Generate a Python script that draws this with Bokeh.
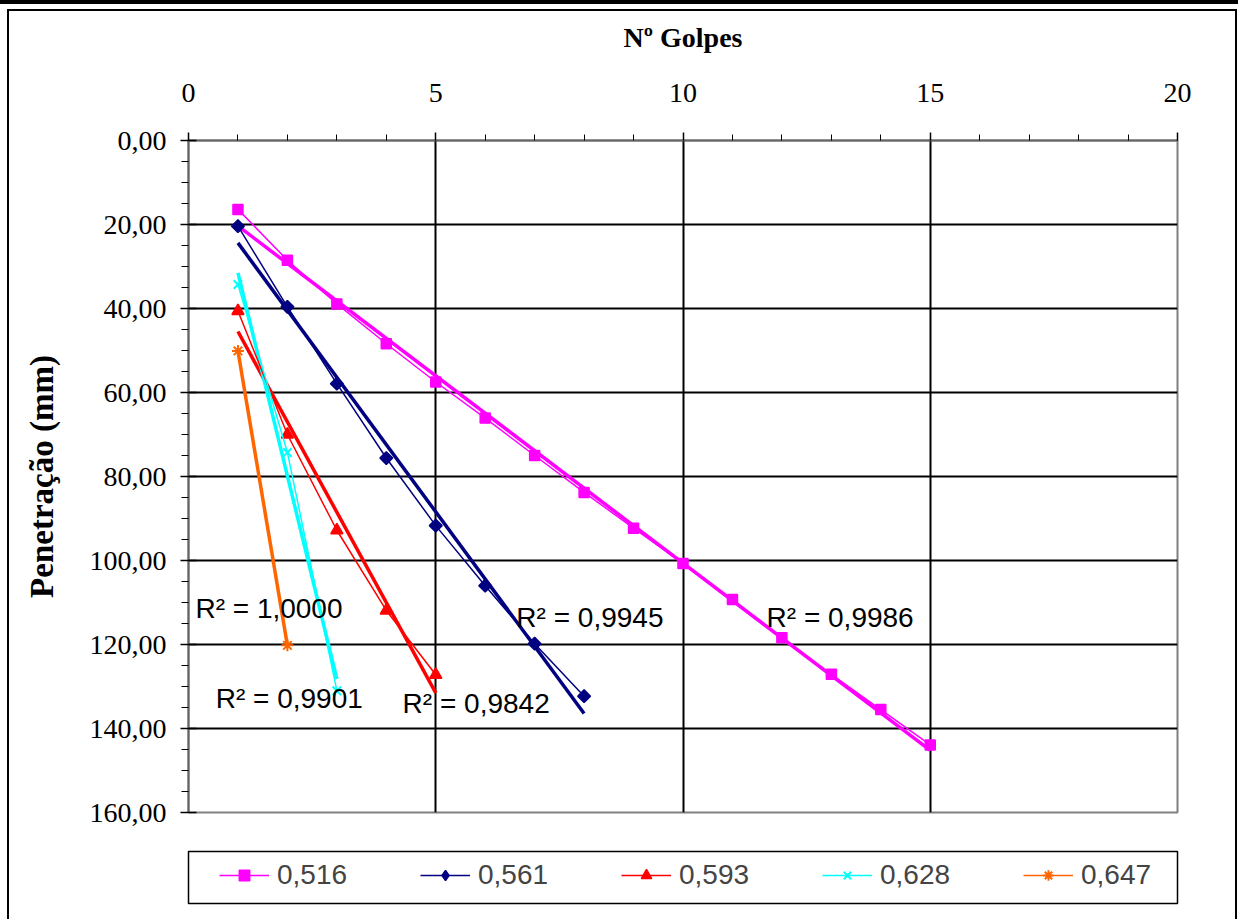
import numpy as np
from bokeh.plotting import figure
from bokeh.layouts import column
from bokeh.models import (ColumnDataSource, Legend, LegendItem, InlineStyleSheet,
                          FixedTicker, CustomJSTickFormatter, Range1d)
from bokeh.core.properties import value
from bokeh.embed import file_html
from bokeh.resources import INLINE

# ---------------- data ----------------
series_names = ["0,516", "0,561", "0,593", "0,628", "0,647"]

golpes_516 = [1, 2, 3, 4, 5, 6, 7, 8, 9, 10, 11, 12, 13, 14, 15]
pen_516 = [16.4, 28.5, 38.9, 48.4, 57.5, 66.1, 75.0, 83.8, 92.3, 100.7,
           109.3, 118.4, 127.1, 135.5, 143.9]

golpes_561 = [1, 2, 3, 4, 5, 6, 7, 8]
pen_561 = [20.4, 39.6, 57.9, 75.6, 91.7, 106.0, 119.8, 132.3]

golpes_593 = [1, 2, 3, 4, 5]
pen_593 = [40.6, 70.0, 92.8, 111.9, 127.2]

golpes_628 = [1, 2, 3]
pen_628 = [34.3, 74.3, 131.0]

golpes_647 = [1, 2]
pen_647 = [50.1, 120.2]

r2_texts = ["R\u00b2 = 0,9986", "R\u00b2 = 0,9945", "R\u00b2 = 0,9842",
            "R\u00b2 = 0,9901", "R\u00b2 = 1,0000"]

x_ticks = [0, 5, 10, 15, 20]
y_ticks = [0, 20, 40, 60, 80, 100, 120, 140, 160]

# ---------------- styles / positions ----------------
colors = ["#FF00FF", "#000080", "#FF0000", "#00FFFF", "#FF6600"]
markers = ["square", "square", "triangle", "x", "asterisk"]
legend_markers = ["square", "diamond", "triangle", "x", "asterisk"]
marker_sizes = [10, 9, 12, 12, 12]
marker_angles = [0, np.pi / 4, 0, 0, 0]
marker_lw = [1.5, 1.5, 1.5, 2, 2]
label_x = [11.69, 6.63, 4.33, 0.55, 0.14]
label_y = [113.6, 113.6, 134.0, 132.9, 111.4]

xs_all = [golpes_516, golpes_561, golpes_593, golpes_628, golpes_647]
ys_all = [pen_516, pen_561, pen_593, pen_628, pen_647]

SERIF = "Liberation Serif"
SANS = "Liberation Sans"

p = figure(width=1238, height=840,
           x_range=Range1d(0, 20), y_range=Range1d(160, 0),
           x_axis_location="above",
           output_backend="svg", toolbar_location=None,
           min_border_left=188, min_border_right=61,
           min_border_top=140, min_border_bottom=28)
p.background_fill_color = "white"
p.border_fill_color = "white"
p.outline_line_color = "#808080"
p.outline_line_width = 2

# axes
p.xaxis.ticker = FixedTicker(ticks=x_ticks, minor_ticks=list(range(0, 21)))
p.yaxis.ticker = FixedTicker(ticks=y_ticks, minor_ticks=list(range(0, 161, 5)))
p.yaxis.formatter = CustomJSTickFormatter(code="return tick.toFixed(2).replace('.', ',');")

for ax in (p.xaxis[0], p.yaxis[0]):
    ax.axis_line_color = "#666666"
    ax.axis_line_width = 2
    ax.major_tick_line_color = "black"
    ax.major_tick_line_width = 1.5
    ax.minor_tick_line_color = "black"
    ax.minor_tick_line_width = 1
    ax.major_label_text_font = SERIF
    ax.major_label_text_font_size = "28px"
    ax.major_label_text_color = "black"
    ax.axis_label_text_font = SERIF
    ax.axis_label_text_font_style = "bold"
    ax.axis_label_text_color = "black"

p.xaxis.major_tick_out = 8
p.xaxis.major_tick_in = 0
p.xaxis.minor_tick_out = 6
p.xaxis.minor_tick_in = 0
p.xaxis.major_label_standoff = 31
p.xaxis.axis_label = "N\u00ba Golpes"
p.xaxis.axis_label_text_font_size = "28px"
p.xaxis.axis_label_standoff = 28

p.yaxis.major_tick_out = 8
p.yaxis.major_tick_in = 8
p.yaxis.minor_tick_out = 7
p.yaxis.minor_tick_in = 0
p.yaxis.major_label_standoff = 14
p.yaxis.axis_label = "Penetra\u00e7\u00e3o (mm)"
p.yaxis.axis_label_text_font_size = "33px"
p.yaxis.axis_label_standoff = 27

p.xgrid.grid_line_color = "black"
p.xgrid.grid_line_width = 2
p.ygrid.grid_line_color = "black"
p.ygrid.grid_line_width = 2

# trend lines (linear fits computed from the data)
for xs, ys, c in zip(xs_all, ys_all, colors):
    k, b = np.polyfit(xs, ys, 1)
    xf = [min(xs), max(xs)]
    p.line(xf, [k * v + b for v in xf], line_color=c, line_width=3.5)

# series
for xs, ys, c, m, s, a, lw in zip(xs_all, ys_all, colors, markers,
                                   marker_sizes, marker_angles, marker_lw):
    src = ColumnDataSource(dict(x=xs, y=ys))
    p.line("x", "y", source=src, line_color=c, line_width=1.5)
    p.scatter("x", "y", source=src, marker=m, size=s, angle=a,
              fill_color=c, line_color=c, line_width=lw)

# R^2 labels
lab_src = ColumnDataSource(dict(x=label_x, y=label_y, text=r2_texts))
p.text("x", "y", text="text", source=lab_src, text_font=value(SANS),
       text_font_size="28px", text_baseline="alphabetic", text_align="left",
       text_color="black")

# ---------------- legend strip (second figure, its frame = legend box) ----------------
lg = figure(width=1238, height=79, x_range=Range1d(0, 1), y_range=Range1d(0, 1),
            x_axis_location=None, y_axis_location=None,
            output_backend="svg", toolbar_location=None,
            min_border_left=183, min_border_right=56,
            min_border_top=11, min_border_bottom=16)
lg.grid.visible = False
lg.outline_line_color = "black"
lg.outline_line_width = 1.5
lg.background_fill_color = "white"
lg.border_fill_color = "white"

items = []
for name, c, m, lw in zip(series_names, colors, legend_markers, marker_lw):
    r1 = lg.line([-10, -9], [-10, -9], line_color=c, line_width=1.5)
    r2 = lg.scatter([-10], [-10], marker=m, size=10,
                    fill_color=c, line_color=c, line_width=lw)
    items.append(LegendItem(label=name, renderers=[r1, r2]))

legend = Legend(items=items, orientation="horizontal", location=(31, 12),
                padding=0, margin=0, spacing=63, label_standoff=8,
                glyph_width=50, glyph_height=26, label_width=80, label_height=30,
                label_text_font=SANS, label_text_font_size="28px",
                border_line_alpha=0, background_fill_alpha=0)
lg.add_layout(legend)

css = InlineStyleSheet(css="""
:host { position: relative; }
:host::before { content: ""; position: absolute; left: 0px; top: 0px;
  width: 1238px; height: 4px; background: #000; z-index: 100; pointer-events: none; }
:host::after { content: ""; position: absolute; left: 7px; top: 9px;
  width: 1230px; height: 910px; border: 2px solid #000; border-bottom: none;
  box-sizing: border-box; z-index: 100; pointer-events: none; }
""")

layout = column(p, lg, spacing=0, stylesheets=[css])

open("out.html", "w").write(file_html(layout, INLINE))
